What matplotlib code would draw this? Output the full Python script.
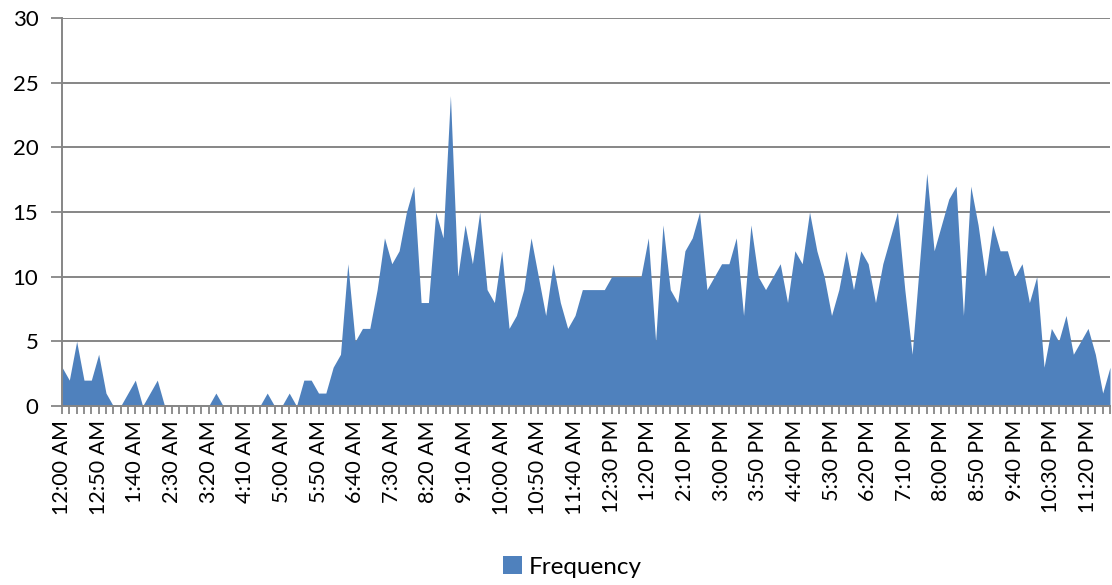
import matplotlib
matplotlib.use('Agg')
import matplotlib.pyplot as plt
import numpy as np

plt.rcParams['font.family'] = ['Lato', 'DejaVu Sans']

# counts per 10-minute slot, midnight to 11:50 PM
night = [3, 2, 5, 2, 2, 4, 1, 0, 0, 1, 2, 0, 1, 2, 0,
         0, 0, 0, 0, 0, 0, 1, 0, 0, 0, 0, 0, 0, 1, 0,
         0, 1, 0, 2, 2, 1, 1, 3, 4, 11]
morning = [5, 6, 6, 9, 13, 11, 12, 15, 17, 8,
           8, 15, 13, 24, 10, 14, 11, 15, 9, 8,
           12, 6, 7, 9, 13, 10, 7, 11, 8, 6,
           7, 9, 9, 9, 9, 10, 10, 10, 10, 10]
afternoon = [13, 5, 14, 9, 8, 12, 13, 15, 9, 10,
             11, 11, 13, 7, 14, 10, 9, 10, 11, 8,
             12, 11, 15, 12, 10, 7, 9, 12, 9, 12,
             11, 8, 11, 13, 15, 9, 4, 11, 18, 12]
evening = [14, 16, 17, 7, 17, 14, 10, 14, 12, 12,
           10, 11, 8, 10, 3, 6, 5, 7, 4, 5,
           6, 4, 1, 3]
frequency = night + morning + afternoon + evening

slots = []
for m in range(0, 24 * 60, 10):
    h, mm = divmod(m, 60)
    h12 = h % 12 or 12
    slots.append('%d:%02d %s' % (h12, mm, 'AM' if h < 12 else 'PM'))

x = np.arange(len(frequency))

fig = plt.figure(figsize=(11.12, 5.85), dpi=100)
ax = fig.add_axes([62 / 1112, 1 - 406 / 585, 1048 / 1112, 388 / 585])

grid_color = '#868686'
ax.fill_between(x, frequency, 0, color='#4F81BD', linewidth=0, label='Frequency', zorder=2)

ax.set_xlim(0, len(frequency) - 1)
ax.set_ylim(0, 30)
ax.set_yticks(range(0, 31, 5))
ax.yaxis.grid(True, color=grid_color, linewidth=1.4, zorder=1)
ax.set_axisbelow(True)

ax.set_xticks(x[::5])
ax.set_xticklabels(slots[::5], rotation=90, fontsize=15.5)
ax.set_xticks(x, minor=True)
ax.tick_params(axis='x', which='both', length=6, width=1.3, color=grid_color, direction='out', pad=4)
ax.tick_params(axis='y', length=8, width=1.3, color=grid_color, labelsize=16, pad=9)

for side in ['top', 'right']:
    ax.spines[side].set_visible(False)
for side in ['left', 'bottom']:
    ax.spines[side].set_color(grid_color)
    ax.spines[side].set_linewidth(1.4)

fig.legend(loc='lower center', bbox_to_anchor=(0.515, -0.025), frameon=False, fontsize=17.5,
           handlelength=0.75, handleheight=0.75, handletextpad=0.3)

fig.savefig('out.png', dpi=100)
